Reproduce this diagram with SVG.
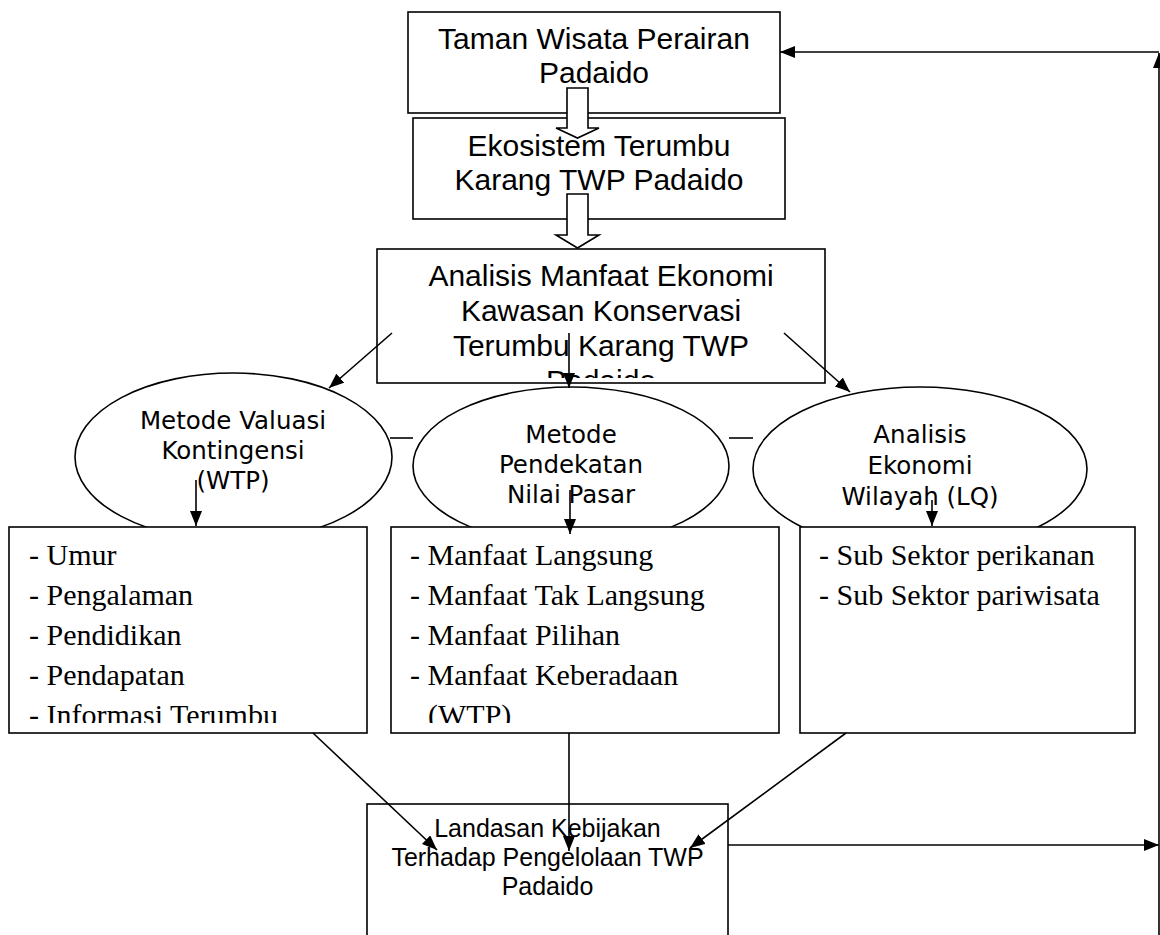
<svg xmlns="http://www.w3.org/2000/svg" width="1160" height="935" viewBox="0 0 1160 935">
<style>
.box{fill:#fff;stroke:#000;stroke-width:1.6}
.ell{fill:#fff;stroke:#000;stroke-width:1.6}
.ta{font-family:"Liberation Sans",Arial,sans-serif;font-size:30px;fill:#000;text-anchor:middle}
.tb{font-family:"Liberation Sans",Arial,sans-serif;font-size:25px;fill:#000;text-anchor:middle}
.te{font-family:"DejaVu Sans",Verdana,sans-serif;font-size:24.5px;fill:#000;text-anchor:middle}
.tl{font-family:"Liberation Serif","Times New Roman",serif;font-size:30px;fill:#000}
.ln{fill:none;stroke:#000;stroke-width:1.6}
.hollow{fill:#fff;stroke:#000;stroke-width:1.6;stroke-linejoin:miter}
</style>
<defs>
<marker id="ah" viewBox="0 0 15 12" refX="15" refY="6" markerWidth="15" markerHeight="12" markerUnits="userSpaceOnUse" orient="auto">
<path d="M0,0 L15,6 L0,12 z" fill="#000"/>
</marker>
<clipPath id="c3"><rect x="377" y="249" width="448" height="129"/></clipPath>
<clipPath id="cl1"><rect x="9" y="527" width="358" height="196"/></clipPath>
<clipPath id="cl2"><rect x="391" y="527" width="388" height="196"/></clipPath>
</defs>

<g id="node-taman">
<rect class="box" x="408" y="12" width="372" height="101"/>
<text class="ta" x="594" y="49">Taman Wisata Perairan</text>
<text class="ta" x="594" y="83">Padaido</text>
</g>

<g id="node-ekosistem">
<rect class="box" x="413" y="118" width="372" height="101"/>
<text class="ta" x="599" y="156">Ekosistem Terumbu</text>
<text class="ta" x="599" y="190">Karang TWP Padaido</text>
</g>

<g id="node-analisis">
<rect class="box" x="377" y="249" width="448" height="134"/>
<g clip-path="url(#c3)">
<text class="ta" x="601" y="286">Analisis Manfaat Ekonomi</text>
<text class="ta" x="601" y="321">Kawasan Konservasi</text>
<text class="ta" x="601" y="356">Terumbu Karang TWP</text>
<text class="ta" x="601" y="391">Padaido</text>
</g>
</g>

<g id="node-valuasi">
<ellipse class="ell" cx="233.5" cy="457" rx="158.5" ry="84"/>
<text class="te" x="233" y="429">Metode Valuasi</text>
<text class="te" x="233" y="459">Kontingensi</text>
<text class="te" x="233" y="489">(WTP)</text>
</g>

<g id="node-pasar">
<ellipse class="ell" cx="571" cy="466" rx="158" ry="79"/>
<text class="te" x="571" y="443">Metode</text>
<text class="te" x="571" y="473">Pendekatan</text>
<text class="te" x="571" y="503">Nilai Pasar</text>
</g>

<g id="node-wilayah">
<ellipse class="ell" cx="920" cy="469" rx="167" ry="82"/>
<text class="te" x="920" y="443">Analisis</text>
<text class="te" x="920" y="474">Ekonomi</text>
<text class="te" x="920" y="505">Wilayah (LQ)</text>
</g>

<g id="node-list1">
<rect class="box" x="9" y="527" width="358" height="206"/>
<g clip-path="url(#cl1)">
<text class="tl" x="29" y="565">- Umur</text>
<text class="tl" x="29" y="605">- Pengalaman</text>
<text class="tl" x="29" y="645">- Pendidikan</text>
<text class="tl" x="29" y="685">- Pendapatan</text>
<text class="tl" x="29" y="725">- Informasi Terumbu</text>
</g>
</g>

<g id="node-list2">
<rect class="box" x="391" y="527" width="388" height="206"/>
<g clip-path="url(#cl2)">
<text class="tl" x="410" y="565">- Manfaat Langsung</text>
<text class="tl" x="410" y="605">- Manfaat Tak Langsung</text>
<text class="tl" x="410" y="645">- Manfaat Pilihan</text>
<text class="tl" x="410" y="685">- Manfaat Keberadaan</text>
<text class="tl" x="428" y="725">(WTP)</text>
</g>
</g>

<g id="node-list3">
<rect class="box" x="800" y="527" width="335" height="206"/>
<text class="tl" x="819" y="565">- Sub Sektor perikanan</text>
<text class="tl" x="819" y="605">- Sub Sektor pariwisata</text>
</g>

<g id="node-landasan">
<rect class="box" x="367" y="804" width="361" height="140"/>
<text class="tb" x="547.5" y="837">Landasan Kebijakan</text>
<text class="tb" x="547.5" y="866">Terhadap Pengelolaan TWP</text>
<text class="tb" x="547.5" y="895">Padaido</text>
</g>

<g id="connectors">
<polygon class="hollow" points="567,88 588,88 588,128 599,128 577.5,138 556,128 567,128"/>
<polygon class="hollow" points="567,194 588,194 588,235 599,235 577.5,248 556,235 567,235"/>
<line class="ln" x1="392" y1="333" x2="329" y2="388" marker-end="url(#ah)"/>
<line class="ln" x1="569" y1="333" x2="569" y2="388" marker-end="url(#ah)"/>
<line class="ln" x1="784" y1="333" x2="850" y2="392" marker-end="url(#ah)"/>
<line class="ln" x1="390" y1="438" x2="413" y2="438"/>
<line class="ln" x1="729" y1="438" x2="753" y2="438"/>
<line class="ln" x1="196" y1="480" x2="196" y2="526" marker-end="url(#ah)"/>
<line class="ln" x1="570" y1="490" x2="570" y2="534" marker-end="url(#ah)"/>
<line class="ln" x1="932" y1="500" x2="932" y2="526" marker-end="url(#ah)"/>
<line class="ln" x1="313" y1="733" x2="437" y2="850" marker-end="url(#ah)"/>
<line class="ln" x1="569" y1="733" x2="569" y2="851" marker-end="url(#ah)"/>
<line class="ln" x1="846" y1="733" x2="690" y2="848" marker-end="url(#ah)"/>
<line class="ln" x1="728" y1="845" x2="1159" y2="845" marker-end="url(#ah)"/>
<line class="ln" x1="1159" y1="935" x2="1159" y2="53" marker-end="url(#ah)"/>
<line class="ln" x1="1159" y1="52" x2="780" y2="52" marker-end="url(#ah)"/>
</g>
</svg>
